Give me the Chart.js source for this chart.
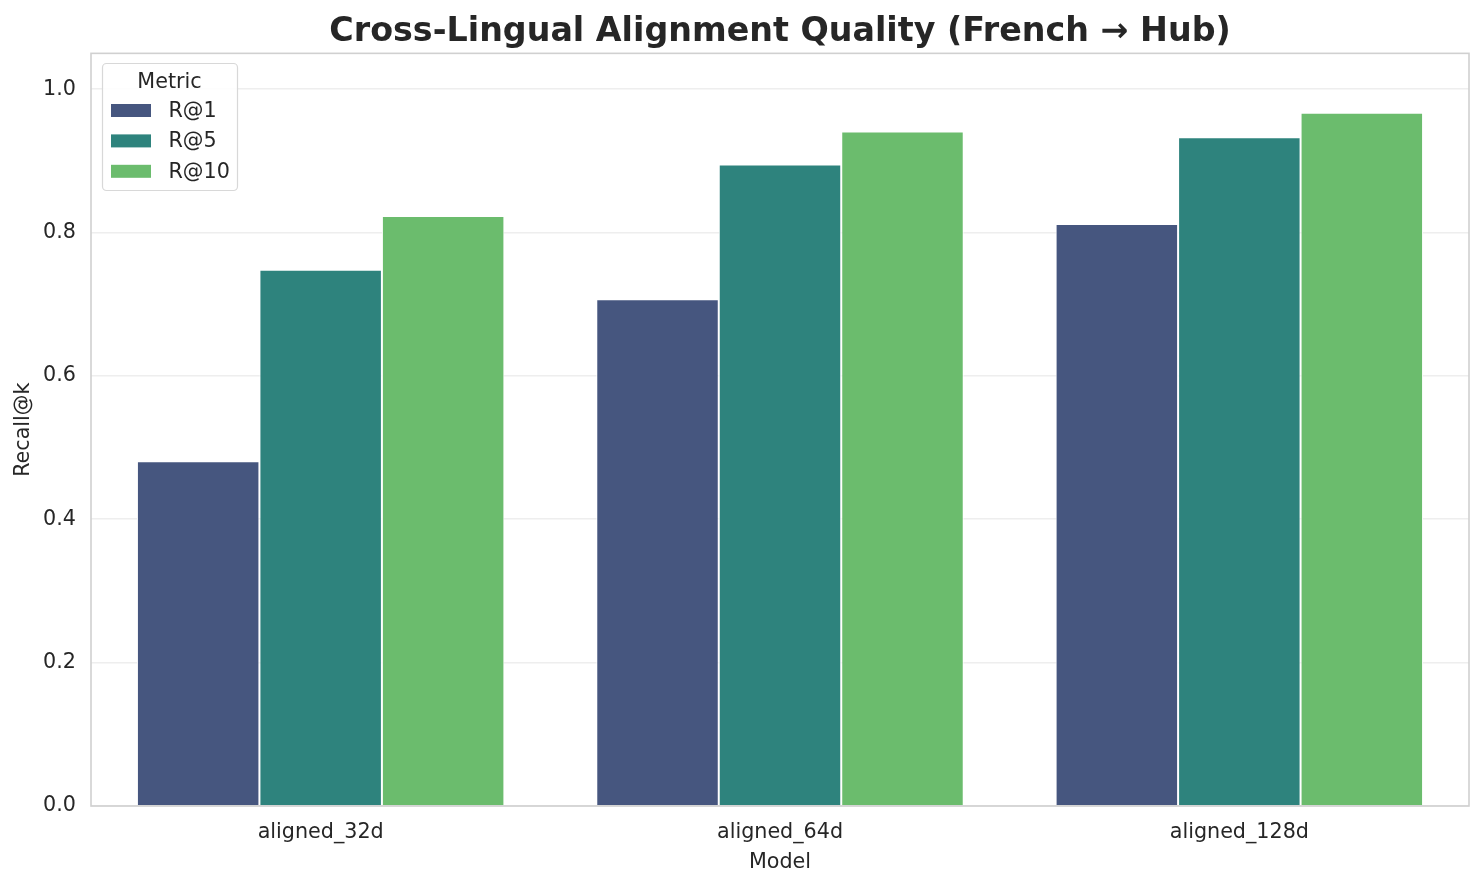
<!DOCTYPE html>
<html>
<head>
<meta charset="utf-8">
<script src="https://cdn.jsdelivr.net/npm/chart.js@4.4.0/dist/chart.umd.min.js"></script>
<style>
  html, body { margin: 0; padding: 0; background: #fff; }
  canvas { display: block; }
</style>
</head>
<body>
<canvas id="chart" width="1484" height="885"></canvas>
<script>
// data
const models = ['aligned_32d', 'aligned_64d', 'aligned_128d'];
const metrics = ['R@1', 'R@5', 'R@10'];
const r1 = [0.481, 0.707, 0.812];
const r5 = [0.748, 0.895, 0.933];
const r10 = [0.823, 0.941, 0.967];
const yTicks = [0.0, 0.2, 0.4, 0.6, 0.8, 1.0];

const colors = ['#46567f', '#2e837d', '#6bbc6d'];
const textColor = '#262626';
const font = 'DejaVu Sans';
const labelSize = 20.7;

// frame around the plot area, like the seaborn whitegrid spines
const framePlugin = {
    id: 'frame',
    afterDatasetsDraw(chart) {
        const a = chart.chartArea, ctx = chart.ctx;
        ctx.save();
        ctx.strokeStyle = '#d0d0d0';
        ctx.lineWidth = 1.6;
        ctx.strokeRect(a.left, a.top, a.right - a.left, a.bottom - a.top);
        ctx.restore();
    }
};

// legend drawn inside the plot, top left
const boxLegend = {
    id: 'boxLegend',
    afterDraw(chart) {
        const ctx = chart.ctx;
        const x = 102, y = 63, w = 135, h = 127;
        ctx.save();
        ctx.fillStyle = 'rgba(255,255,255,0.85)';
        ctx.strokeStyle = '#d8d8d8';
        ctx.lineWidth = 1.2;
        ctx.beginPath();
        ctx.roundRect(x + 0.5, y + 0.5, w, h, 4);
        ctx.fill();
        ctx.stroke();
        ctx.fillStyle = textColor;
        ctx.font = labelSize + 'px "' + font + '"';
        ctx.textBaseline = 'middle';
        ctx.textAlign = 'center';
        ctx.fillText('Metric', x + w / 2, y + 20);
        ctx.textAlign = 'left';
        chart.data.datasets.forEach((ds, i) => {
            const cy = y + 47.5 + i * 30.4;
            ctx.fillStyle = ds.backgroundColor;
            ctx.fillRect(x + 9, cy - 6.5, 40, 13);
            ctx.fillStyle = textColor;
            ctx.fillText(ds.label, x + 66.5, cy + 1);
        });
        ctx.restore();
    }
};

new Chart(document.getElementById('chart').getContext('2d'), {
    type: 'bar',
    data: {
        labels: models,
        datasets: [r1, r5, r10].map((vals, i) => ({
            label: metrics[i],
            data: vals,
            backgroundColor: colors[i],
            borderColor: '#ffffff',
            borderWidth: 1,
            categoryPercentage: 0.8,
            barPercentage: 1.0
        }))
    },
    options: {
        responsive: false,
        animation: false,
        devicePixelRatio: 1,
        layout: { padding: { left: 6, right: 15, top: 0, bottom: 8 } },
        plugins: {
            legend: { display: false },
            tooltip: { enabled: false },
            title: {
                display: true,
                fullSize: false,
                text: 'Cross-Lingual Alignment Quality (French → Hub)',
                color: textColor,
                font: { family: font, size: 33.3, weight: 'bold' },
                padding: { top: 12, bottom: 1.4 }
            }
        },
        scales: {
            x: {
                grid: { display: false, drawTicks: false },
                border: { display: false },
                ticks: { color: textColor, font: { family: font, size: labelSize }, padding: 14 },
                title: {
                    display: true, text: 'Model', color: textColor,
                    font: { family: font, size: labelSize }, padding: { top: 4, bottom: 1.6 }
                },
                afterFit(scale) { scale.height = 71; }
            },
            y: {
                min: 0,
                max: 1.05,
                grid: { color: '#eeeeee', lineWidth: 1.6, drawTicks: false },
                border: { display: false },
                afterBuildTicks(scale) {
                    scale.ticks = yTicks.map(v => ({ value: v }));
                },
                ticks: {
                    color: textColor,
                    font: { family: font, size: labelSize },
                    padding: 15,
                    callback: v => Number(v).toFixed(1)
                },
                title: {
                    display: true, text: 'Recall@k', color: textColor,
                    font: { family: font, size: labelSize }, padding: { top: 5.6, bottom: 4 }
                },
                afterFit(scale) { scale.width = 85; }
            }
        }
    },
    plugins: [framePlugin, boxLegend]
});
</script>
</body>
</html>
